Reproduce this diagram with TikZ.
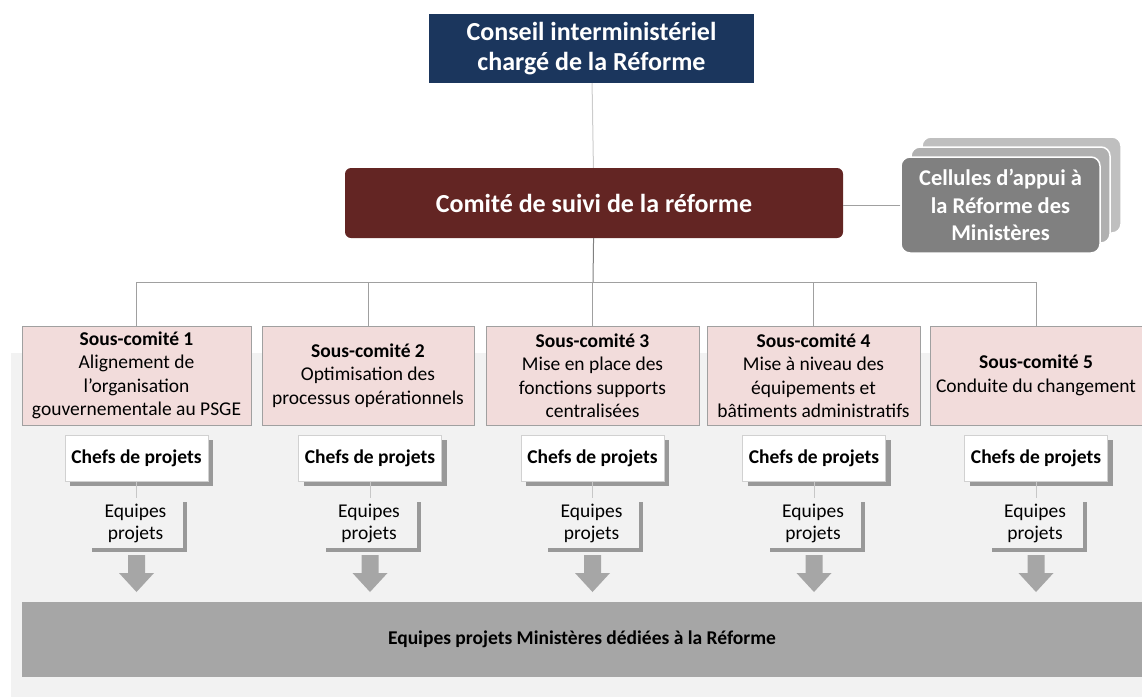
\documentclass[tikz,border=0pt]{standalone}
\usepackage{fontspec}
\setmainfont{Carlito}
\usetikzlibrary{positioning,shadows}

\definecolor{navy}{HTML}{1B365D}
\definecolor{bordeaux}{HTML}{632523}
\definecolor{rose}{HTML}{F2DCDB}
\definecolor{panel}{HTML}{F2F2F2}
\definecolor{barre}{HTML}{A6A6A6}
\definecolor{ombre}{HTML}{999999}
\definecolor{trait}{HTML}{A0A0A0}

\tikzset{
  lien/.style={draw=trait, line width=1pt},
  souscomite/.style={draw=trait, fill=rose, line width=1pt, align=center,
    minimum height=99pt, inner sep=0pt,
    font=\fontsize{19.5}{23.5}\selectfont},
  chefs/.style={draw=black!18, fill=white, line width=1pt, minimum width=143pt,
    minimum height=46pt, font=\bfseries\fontsize{19.5}{22}\selectfont,
    drop shadow={shadow xshift=5pt, shadow yshift=-5pt, fill=ombre, opacity=1}},
  equipes/.style={fill=panel, minimum width=95pt, minimum height=50pt,
    align=center, inner sep=0pt, font=\fontsize{19.5}{22}\selectfont,
    drop shadow={shadow xshift=4pt, shadow yshift=-4pt, fill=ombre, opacity=1}},
  cellule/.style={rounded corners=9pt, draw=white, line width=1.5pt,
    minimum width=199pt, minimum height=96pt}
}

\begin{document}
\begin{tikzpicture}[x=1pt,y=-1pt]
\useasboundingbox (0,0) rectangle (1142,697);

% fond gris du bas
\fill[panel] (11,353) rectangle (1142,697);

% niveau haut
\node[fill=navy, text=white, minimum width=325pt, minimum height=69pt, align=center,
  inner sep=0pt, font=\bfseries\fontsize{26}{30}\selectfont] (conseil) at (591.5,48.5)
  {Conseil interministériel\\chargé de la Réforme};
\node[fill=bordeaux, text=white, rounded corners=6pt, minimum width=498pt, minimum height=70pt,
  font=\bfseries\fontsize{26}{30}\selectfont] (comite) at (594,203)
  {Comité de suivi de la réforme};

% cellules d'appui
\node[cellule, fill=black!25] (cel3) at (1021.5,185) {};
\node[cellule, fill=black!31] (cel2) at (1010.5,195) {};
\node[cellule, fill=black!50, text=white, align=center, inner sep=0pt,
  font=\bfseries\fontsize{22.5}{27.5}\selectfont] (cel) at (1000.5,205)
  {Cellules d’appui à\\la Réforme des\\Ministères};

\draw[draw=black!20, line width=1pt] (conseil) -- (comite);
\draw[lien] (cel.west) -- (cel.west -| comite.east);

% sous-comites
\node[souscomite, minimum width=229pt] (sc1) at (136.5,375.5)
  {\textbf{Sous-comité 1}\\Alignement de\\l’organisation\\gouvernementale au PSGE};
\node[souscomite, minimum width=212pt] (sc2) at (368,375.5)
  {\textbf{Sous-comité 2}\\Optimisation des\\processus opérationnels};
\node[souscomite, minimum width=213pt] (sc3) at (592.5,375.5)
  {\textbf{Sous-comité 3}\\Mise en place des\\fonctions supports\\centralisées};
\node[souscomite, minimum width=213pt] (sc4) at (813.5,375.5)
  {\textbf{Sous-comité 4}\\Mise à niveau des\\équipements et\\bâtiments administratifs};
\node[souscomite, minimum width=212pt] (sc5) at (1036,375.5)
  {\textbf{Sous-comité 5}\\Conduite du changement};

\coordinate (bus) at (593,282);
\draw[draw=black!50, line width=1pt] (comite) -- (bus);
\foreach \i in {1,...,5}
  \draw[lien] (bus) -| (sc\i.north);

% barre du bas
\node[fill=barre, minimum width=1120pt, minimum height=75pt,
  font=\bfseries\fontsize{19.5}{22}\selectfont] (bas) at (582,639.5)
  {Equipes projets Ministères dédiées à la Réforme};

% chefs de projets, equipes et fleches
\foreach \i/\x in {1/136.5,2/370,3/592.5,4/814,5/1036}{
  \node[chefs] (chef\i) at (\x,458) {Chefs de projets};
  \node[equipes] (eq\i) at (\x-1,523) {Equipes\\projets};
  \draw[draw=black!22, line width=1pt] (chef\i.south) -- (chef\i.south |- eq\i.north);
  \fill[barre] (\x-8.5,555) -- (\x+8.5,555) -- (\x+8.5,573) -- (\x+17.5,573)
    -- (\x,592) -- (\x-17.5,573) -- (\x-8.5,573) -- cycle;
}

\end{tikzpicture}
\end{document}
